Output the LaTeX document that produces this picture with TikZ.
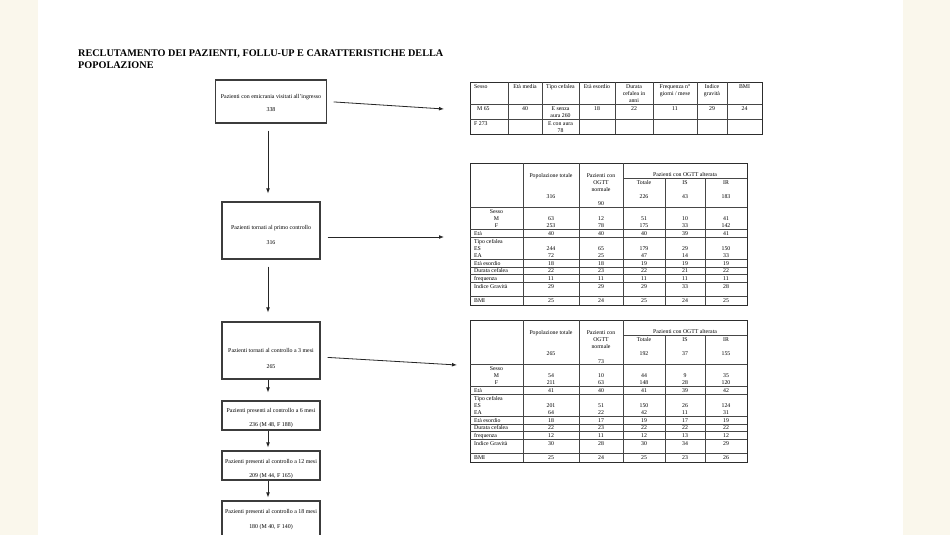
\documentclass[tikz,border=0pt]{standalone}
\usepackage{fontspec}
\setmainfont{Liberation Serif}
\usetikzlibrary{arrows.meta}
\definecolor{paper}{RGB}{250,247,236}
\definecolor{boxline}{RGB}{60,60,60}
\definecolor{tline}{RGB}{70,70,70}
\definecolor{tborder}{RGB}{45,45,45}
\newcommand\OGTTframe[1]{%
  \draw[tb] (470,163) rectangle (747,305);
  \foreach \x in {523,579,623} \draw[tl] (\x,163) -- (\x,305);
  \foreach \x in {665,705} \draw[tl] (\x,178) -- (\x,305);
  \draw[tl] (623,178) -- (747,178);
  \draw[tl] (470,207) -- (747,207);
  \foreach \y in {229,237,259,267,274,282,296} \draw[tl] (470,\y) -- (747,\y);
  \node[ct] (#1-alt) at (685,174) {Pazienti con OGTT alterata};
  \node[ct] (#1-pop) at (551,175) {Popolazione totale};
  \node[ct] (#1-pc1) at (601,175) {Pazienti con};
  \node[ct] (#1-pc2) at (601,182) {OGTT};
  \node[ct] (#1-pc3) at (601,189) {normale};
  \node[ct] (#1-tot) at (644,182) {Totale};
  \node[ct] (#1-is) at (685,182) {IS};
  \node[ct] (#1-ir) at (726,182) {IR};
  \node[ct] (#1-sesso) at (496.5,211) {Sesso};
  \node[ct] (#1-m) at (496.5,218) {M};
  \node[ct] (#1-f) at (496.5,225) {F};
  \node[lt] (#1-eta) at (474,233) {Età};
  \node[lt] (#1-tipo) at (474,241) {Tipo cefalea};
  \node[lt] (#1-es) at (474,248) {ES};
  \node[lt] (#1-ea) at (474,255) {EA};
  \node[lt] (#1-esord) at (474,263) {Età esordio};
  \node[lt] (#1-dur) at (474,270) {Durata cefalea};
  \node[lt] (#1-freq) at (474,278) {frequenza};
  \node[lt] (#1-ind) at (474,286) {Indice Gravità};
  \node[lt] (#1-bmi) at (474,300) {BMI};
}
\newcommand\OGTTrow[7]{%
  \node[ct] (#1-#2-a) at (551,#2) {#3};
  \node[ct] (#1-#2-b) at (601,#2) {#4};
  \node[ct] (#1-#2-c) at (644,#2) {#5};
  \node[ct] (#1-#2-d) at (685,#2) {#6};
  \node[ct] (#1-#2-e) at (726,#2) {#7};
}
\begin{document}
\begin{tikzpicture}[x=1pt,y=-1pt,
  box/.style={draw=boxline, line width=1.1pt, fill=white, inner sep=0},
  btext/.style={font=\fontsize{5.9}{7}\selectfont, inner sep=0, anchor=mid},
  arr/.style={draw=black!85, line width=0.8pt, -{Latex[length=5pt,width=3.8pt]}},
  ct/.style={font=\fontsize{5.8}{7}\selectfont, inner sep=0, anchor=mid},
  lt/.style={ct, anchor=mid west},
  tl/.style={draw=tline, line width=0.55pt},
  tb/.style={draw=tborder, line width=0.8pt},
]
\useasboundingbox (0,0) rectangle (950,535);
\clip (0,0) rectangle (950,535);
\fill[paper] (0,0) rectangle (950,535);
\fill[white] (38,0) rectangle (903,535);

% title
\node[anchor=base west, inner sep=0, font=\fontsize{10.2}{11.7}\selectfont\bfseries] (title1) at (78,56.8) {RECLUTAMENTO DEI PAZIENTI, FOLLU-UP E CARATTERISTICHE DELLA};
\node[anchor=base west, inner sep=0, font=\fontsize{10.2}{11.7}\selectfont\bfseries] (title2) at (78,68.5) {POPOLAZIONE};

% flow boxes
\node[box, minimum width=111pt, minimum height=43pt] (b1) at (271,101.5) {};
\node[box, minimum width=98pt, minimum height=57pt] (b2) at (271,230.5) {};
\node[box, minimum width=98pt, minimum height=57pt] (b3) at (271,350.5) {};
\node[box, minimum width=98pt, minimum height=29pt] (b4) at (271,415.5) {};
\node[box, minimum width=98pt, minimum height=29pt] (b5) at (271,465.5) {};
\node[box, minimum width=98pt, minimum height=44pt] (b6) at (271,523) {};

\node[btext] (b1t1) at (271,96) {Pazienti con emicrania visitati all’ingresso};
\node[btext] (b1t2) at (271,109) {338};
\node[btext] (b2t1) at (271,227.3) {Pazienti tornati al primo controllo};
\node[btext] (b2t2) at (271,242.3) {316};
\node[btext] (b3t1) at (271,350.5) {Pazienti tornati al controllo a 3 mesi};
\node[btext] (b3t2) at (271,366) {265};
\node[btext] (b4t1) at (271,410) {Pazienti presenti al controllo a 6 mesi};
\node[btext] (b4t2) at (271,424.5) {236 (M 48, F 188)};
\node[btext] (b5t1) at (271,460.7) {Pazienti presenti al controllo a 12 mesi};
\node[btext] (b5t2) at (271,475.5) {209 (M 44, F 165)};
\node[btext] (b6t1) at (271,511) {Pazienti presenti al controllo a 18 mesi};
\node[btext] (b6t2) at (271,526) {180 (M 40, F 140)};

% vertical arrows
\draw[arr, shorten <=7pt, shorten >=8pt] ([xshift=-3pt]b1.south) -- ([xshift=-3pt]b2.north);
\draw[arr, shorten <=7pt, shorten >=9pt] ([xshift=-3pt]b2.south) -- ([xshift=-3pt]b3.north);
\draw[arr, shorten >=8pt] ([xshift=-3pt]b3.south) -- ([xshift=-3pt]b4.north);
\draw[arr, shorten >=3pt] ([xshift=-3pt]b4.south) -- ([xshift=-3pt]b5.north);
\draw[arr, shorten >=3pt] ([xshift=-3pt]b5.south) -- ([xshift=-3pt]b6.north);

% horizontal arrows towards the tables
\coordinate (e1) at (444,109);
\coordinate (e2) at (444,237);
\coordinate (e3) at (457,365);
\draw[arr, shorten <=6.5pt] (b1.east) -- (e1);
\draw[arr, shorten <=7pt] ([yshift=-6.5pt]b2.east) -- (e2);
\draw[arr, shorten <=7pt] ([yshift=-6.5pt]b3.east) -- (e3);

% table 1
\draw[tb] (470,82) rectangle (762,134);
\foreach \x in {508,542,579,615,653,697,727} \draw[tl] (\x,82) -- (\x,134);
\draw[tl] (470,104) -- (762,104);
\draw[tl] (470,119) -- (762,119);
\node[lt] (h1) at (474,86) {Sesso};
\node[ct] (h2) at (525,86) {Età media};
\node[ct] (h3) at (560.5,86) {Tipo cefalea};
\node[ct] (h4) at (597,86) {Età esordio};
\node[ct] (h5a) at (634,86) {Durata};
\node[ct] (h5b) at (634,93) {cefalea in};
\node[ct] (h5c) at (634,100) {anni};
\node[ct] (h6a) at (675,86) {Frequenza n°};
\node[ct] (h6b) at (675,93) {giorni / mese};
\node[ct] (h7a) at (712,86) {Indice};
\node[ct] (h7b) at (712,93) {gravità};
\node[ct] (h8) at (744.5,86) {BMI};
\node[lt] (r1a) at (477,108) {M 65};
\node[ct] (r1b) at (525,108) {40};
\node[ct] (r1c1) at (560.5,108) {E senza};
\node[ct] (r1c2) at (560.5,115) {aura 260};
\node[ct] (r1d) at (597,108) {18};
\node[ct] (r1e) at (634,108) {22};
\node[ct] (r1f) at (675,108) {11};
\node[ct] (r1g) at (712,108) {29};
\node[ct] (r1h) at (744.5,108) {24};
\node[lt] (r2a) at (474,123) {F 273};
\node[ct] (r2c1) at (560.5,123) {E con aura};
\node[ct] (r2c2) at (560.5,130) {78};

% table 2
\begin{scope}
  \OGTTframe{ta}
  \node[ct] (ta-n1) at (551,196) {316};
  \node[ct] (ta-n2) at (601,203) {90};
  \node[ct] (ta-n3) at (644,196) {226};
  \node[ct] (ta-n4) at (685,196) {43};
  \node[ct] (ta-n5) at (726,196) {183};
  \OGTTrow{ta}{218}{63}{12}{51}{10}{41}
  \OGTTrow{ta}{225}{253}{78}{175}{33}{142}
  \OGTTrow{ta}{233}{40}{40}{40}{39}{41}
  \OGTTrow{ta}{248}{244}{65}{179}{29}{150}
  \OGTTrow{ta}{255}{72}{25}{47}{14}{33}
  \OGTTrow{ta}{263}{18}{18}{19}{19}{19}
  \OGTTrow{ta}{270}{22}{23}{22}{21}{22}
  \OGTTrow{ta}{278}{11}{11}{11}{11}{11}
  \OGTTrow{ta}{286}{29}{29}{29}{33}{28}
  \OGTTrow{ta}{300}{25}{24}{25}{24}{25}
\end{scope}

% table 3
\begin{scope}[yshift=-157pt]
  \OGTTframe{tb}
  \node[ct] (tb-n1) at (551,196) {265};
  \node[ct] (tb-n2) at (601,204) {73};
  \node[ct] (tb-n3) at (644,196) {192};
  \node[ct] (tb-n4) at (685,196) {37};
  \node[ct] (tb-n5) at (726,196) {155};
  \OGTTrow{tb}{218}{54}{10}{44}{9}{35}
  \OGTTrow{tb}{225}{211}{63}{148}{28}{120}
  \OGTTrow{tb}{233}{41}{40}{41}{39}{42}
  \OGTTrow{tb}{248}{201}{51}{150}{26}{124}
  \OGTTrow{tb}{255}{64}{22}{42}{11}{31}
  \OGTTrow{tb}{263}{18}{17}{19}{17}{19}
  \OGTTrow{tb}{270}{22}{23}{22}{22}{22}
  \OGTTrow{tb}{278}{12}{11}{12}{13}{12}
  \OGTTrow{tb}{286}{30}{28}{30}{34}{29}
  \OGTTrow{tb}{300}{25}{24}{25}{23}{26}
\end{scope}
\end{tikzpicture}
\end{document}
